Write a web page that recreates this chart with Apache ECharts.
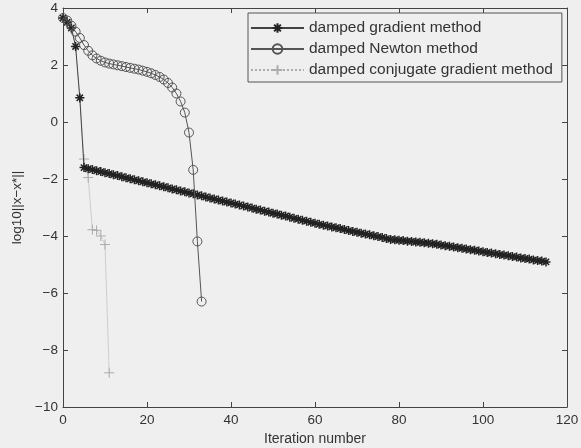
<!DOCTYPE html>
<html><head><meta charset="utf-8">
<script src="https://cdn.jsdelivr.net/npm/echarts@6/dist/echarts.min.js"></script>
<style>html,body{margin:0;padding:0;background:#efefef}#c{width:581px;height:448px}</style>
</head><body><div id="c"></div>
<script>
// values indexed by iteration number 0,1,2,...
const gradientValues = [3.65,3.5,3.3,2.65,0.85,
 -1.60,-1.64,-1.67,-1.71,-1.74,-1.78,-1.81,-1.85,-1.88,-1.92,
 -1.96,-1.99,-2.03,-2.06,-2.10,-2.13,-2.17,-2.20,-2.24,-2.27,
 -2.31,-2.35,-2.38,-2.42,-2.45,-2.49,-2.52,-2.56,-2.59,-2.63,
 -2.67,-2.70,-2.74,-2.77,-2.81,-2.84,-2.88,-2.91,-2.95,-2.98,
 -3.02,-3.06,-3.09,-3.13,-3.16,-3.20,-3.23,-3.27,-3.30,-3.34,
 -3.38,-3.41,-3.45,-3.48,-3.52,-3.55,-3.59,-3.62,-3.65,-3.68,
 -3.71,-3.74,-3.77,-3.81,-3.84,-3.87,-3.90,-3.93,-3.96,-3.99,
 -4.02,-4.05,-4.09,-4.12,-4.13,-4.15,-4.16,-4.18,-4.19,-4.21,
 -4.22,-4.24,-4.25,-4.27,-4.29,-4.32,-4.34,-4.36,-4.39,-4.41,
 -4.43,-4.46,-4.48,-4.50,-4.53,-4.55,-4.58,-4.60,-4.62,-4.65,
 -4.67,-4.69,-4.72,-4.74,-4.77,-4.79,-4.81,-4.84,-4.86,-4.88,-4.91];
const newtonValues = [3.65,3.56,3.38,3.17,2.95,2.70,2.50,2.34,2.23,2.15,
 2.09,2.05,2.02,1.99,1.96,1.93,1.90,1.87,1.84,1.80,
 1.76,1.71,1.65,1.58,1.49,1.37,1.21,1.00,0.72,0.33,
 -0.37,-1.68,-4.19,-6.30];
const conjugateValues = [3.65,3.5,3.3,2.65,0.85,-1.3,-1.95,-3.78,-3.8,-4.0,-4.3,-8.8];
const seriesNames = ['damped gradient method','damped Newton method','damped conjugate gradient method'];
const xTicks = {min:0, max:120, interval:20};
const yTicks = {min:-10, max:4, interval:2};

const toPairs = arr => arr.map((v,i)=>[i,v]);
const FONT = 'Liberation Sans, Arial, Helvetica, sans-serif';
const axisColor = '#444';
const star = 'path://M0 5L10 5M5 0L5 10M1.5 1.5L8.5 8.5M1.5 8.5L8.5 1.5';
const plus = 'path://M0 5L10 5M5 0L5 10';
const minus = v => String(v).replace('-', '\u2212');

const baseX = {type:'value', min:xTicks.min, max:xTicks.max, interval:xTicks.interval,
  axisLine:{show:true, onZero:false, lineStyle:{color:axisColor,width:1}},
  axisTick:{show:true, inside:true, length:5, lineStyle:{color:axisColor}},
  splitLine:{show:false}};
const baseY = {type:'value', min:yTicks.min, max:yTicks.max, interval:yTicks.interval,
  axisLine:{show:true, onZero:false, lineStyle:{color:axisColor,width:1}},
  axisTick:{show:true, inside:true, length:5, lineStyle:{color:axisColor}},
  splitLine:{show:false}};

const chart = echarts.init(document.getElementById('c'), null, {renderer:'canvas'});
chart.setOption({
  backgroundColor:'#efefef',
  animation:false,
  textStyle:{fontFamily:FONT},
  grid:{left:63, right:14, top:8, bottom:41, containLabel:false, outerBoundsMode:'none'},
  legend:{
    orient:'vertical', left:248, top:13,
    data:seriesNames,
    itemWidth:53, itemHeight:12, itemGap:5,
    padding:[7,9,4,2],
    borderColor:'#555', borderWidth:1,
    textStyle:{fontFamily:FONT, fontSize:15.5, lineHeight:15, color:'#333'}
  },
  xAxis:[
    Object.assign({}, baseX, {position:'bottom',
      name:'Iteration number', nameLocation:'middle', nameGap:24,
      nameTextStyle:{fontFamily:FONT, fontSize:14, color:'#333'},
      axisLabel:{show:true, margin:6, fontFamily:FONT, fontSize:13.5, color:'#333'}}),
    Object.assign({}, baseX, {position:'top', axisLabel:{show:false}})
  ],
  yAxis:[
    Object.assign({}, baseY, {position:'left',
      name:'log10||x\u2212x*||', nameLocation:'middle', nameGap:38, nameRotate:90,
      nameTextStyle:{fontFamily:FONT, fontSize:13.5, color:'#333'},
      axisLabel:{show:true, margin:5, fontFamily:FONT, fontSize:13.5, color:'#333', formatter:minus}}),
    Object.assign({}, baseY, {position:'right', axisLabel:{show:false}})
  ],
  series:[
    {name:seriesNames[2], type:'line', data:toPairs(conjugateValues), z:2,
     symbol:plus, symbolSize:10, showAllSymbol:true,
     lineStyle:{color:'#ababab', width:1, type:'dotted'},
     itemStyle:{color:'rgba(0,0,0,0)', borderColor:'#ababab', borderWidth:1}},
    {name:seriesNames[0], type:'line', data:toPairs(gradientValues), z:3,
     symbol:star, symbolSize:9, showAllSymbol:true,
     lineStyle:{color:'#444', width:1},
     itemStyle:{color:'rgba(0,0,0,0)', borderColor:'#222', borderWidth:1.5}},
    {name:seriesNames[1], type:'line', data:toPairs(newtonValues), z:4,
     symbol:'circle', symbolSize:9, showAllSymbol:true,
     lineStyle:{color:'#555', width:1},
     itemStyle:{color:'rgba(0,0,0,0)', borderColor:'#555', borderWidth:1}}
  ]
});
</script></body></html>
